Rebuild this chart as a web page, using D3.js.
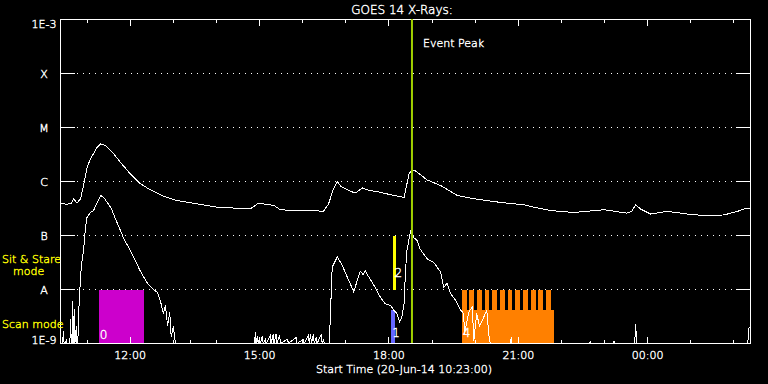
<!DOCTYPE html>
<html>
<head>
<meta charset="utf-8">
<script src="https://cdn.jsdelivr.net/npm/d3@7"></script>
<style>
  html, body { margin: 0; padding: 0; background: #000; }
  svg { display: block; }
  text { font-family: "DejaVu Sans", sans-serif; font-weight: 200; stroke-width: 0.4px; }
</style>
</head>
<body>
<div id="chart"></div>
<script>
// Flux levels of the left axis (W/m^2) and their labels
const levelValues = [1e-3, 1e-4, 1e-5, 1e-6, 1e-7, 1e-8, 1e-9];
const levelLabels = ["1E-3", "X", "M", "C", "B", "A", "1E-9"];
const gridValues = [1e-4, 1e-5, 1e-6, 1e-7, 1e-8];

const titleText = "GOES 14 X-Rays:";
const xTitle = "Start Time (20-Jun-14 10:23:00)";
const startClock = "10:23";
const endClock = "02:23";
const eventPeak = "18:32";

// 1-8 A channel (upper curve)
const longChannel = [
    ["10:23", 3.9e-7], ["10:32", 3.8e-7], ["10:38", 3.9e-7], ["10:41", 4.8e-7],
    ["10:46", 4.0e-7], ["10:51", 4.8e-7], ["10:55", 8.4e-7], ["11:00", 1.84e-6],
    ["11:05", 2.67e-6], ["11:09", 3.3e-6], ["11:14", 4.3e-6], ["11:19", 5.0e-6],
    ["11:26", 4.6e-6], ["11:35", 3.5e-6], ["11:46", 2.3e-6], ["12:00", 1.39e-6],
    ["12:14", 9.1e-7], ["12:28", 7.0e-7], ["12:47", 5.3e-7], ["13:05", 4.45e-7],
    ["13:38", 3.75e-7], ["14:01", 3.34e-7], ["14:29", 3.2e-7], ["14:47", 3.1e-7],
    ["14:57", 3.86e-7], ["15:04", 3.86e-7], ["15:20", 3.6e-7], ["15:29", 3.0e-7],
    ["15:48", 2.9e-7], ["16:06", 2.9e-7], ["16:29", 2.82e-7], ["16:36", 3.86e-7],
    ["16:42", 6.8e-7], ["16:48", 1.01e-6], ["16:53", 8.1e-7], ["17:02", 7.0e-7],
    ["17:13", 6.1e-7], ["17:23", 7.6e-7], ["17:30", 7.0e-7], ["17:48", 6.3e-7],
    ["18:07", 5.5e-7], ["18:21", 5.1e-7], ["18:24", 7.8e-7], ["18:28", 1.39e-6],
    ["18:31", 1.6e-6], ["18:37", 1.57e-6], ["18:53", 1.07e-6], ["19:12", 8.4e-7],
    ["19:35", 5.5e-7], ["19:58", 4.8e-7], ["20:35", 4.1e-7], ["21:08", 3.7e-7],
    ["21:22", 3.34e-7], ["21:45", 2.9e-7], ["22:17", 2.67e-7], ["22:59", 3.0e-7],
    ["23:31", 2.6e-7], ["23:38", 2.8e-7], ["23:43", 3.7e-7], ["23:50", 3.1e-7],
    ["00:04", 2.5e-7], ["00:27", 2.8e-7], ["01:00", 2.45e-7], ["01:18", 2.35e-7],
    ["01:46", 2.4e-7], ["02:05", 2.8e-7], ["02:14", 3.1e-7], ["02:23", 3.1e-7]
];

// 0.5-4 A channel (lower curve), values under 1E-9 sit on the axis
const shortChannel = [
    ["10:23", 9e-10], ["10:26", 9e-10], ["10:27", 1.7e-9], ["10:28", 9e-10],
    ["10:30", 9e-10], ["10:31", 1.2e-9], ["10:32", 9e-10], ["10:36", 9e-10],
    ["10:37", 2.9e-9], ["10:38", 9e-10], ["10:39", 9e-10], ["10:40", 6.2e-9],
    ["10:41", 9e-10], ["10:42", 4.4e-9], ["10:43", 9e-10], ["10:45", 2.1e-9],
    ["10:46", 9e-10], ["10:47", 9e-10], ["10:49", 6.2e-9], ["10:52", 2.8e-8],
    ["10:55", 5.3e-8], ["10:58", 1.5e-7], ["11:00", 2.2e-7], ["11:05", 2.7e-7],
    ["11:09", 2.9e-7], ["11:14", 4.1e-7], ["11:19", 5.5e-7], ["11:23", 5.1e-7],
    ["11:33", 3.3e-7], ["11:42", 1.7e-7], ["11:51", 8.8e-8], ["12:00", 5.3e-8],
    ["12:14", 2.2e-8], ["12:24", 1.3e-8], ["12:32", 1.0e-8], ["12:38", 8.8e-9],
    ["12:42", 6.2e-9], ["12:46", 3.6e-9], ["12:49", 5.1e-9], ["12:52", 2.1e-9],
    ["12:55", 3.8e-9], ["12:57", 1.3e-9], ["13:00", 2.1e-9], ["13:03", 9e-10],
    ["13:23", 9e-10], ["13:24", 1.1e-9], ["13:25", 9e-10],
    ["14:53", 9e-10], ["14:54", 1.6e-9], ["14:55", 9e-10], ["14:57", 1.4e-9],
    ["14:58", 9e-10], ["15:00", 1.3e-9], ["15:01", 9e-10], ["15:04", 1.4e-9],
    ["15:05", 9e-10], ["15:08", 1.2e-9], ["15:09", 9e-10], ["15:15", 1.4e-9],
    ["15:16", 9e-10], ["15:19", 1.5e-9], ["15:20", 9e-10], ["15:23", 1.5e-9],
    ["15:24", 9e-10], ["15:28", 1.4e-9], ["15:29", 9e-10], ["15:39", 1.2e-9],
    ["15:40", 9e-10], ["15:51", 1.3e-9], ["15:52", 9e-10], ["16:01", 1.2e-9],
    ["16:02", 9e-10], ["16:08", 1.4e-9], ["16:09", 9e-10], ["16:11", 1.5e-9],
    ["16:12", 9e-10], ["16:15", 1.5e-9], ["16:16", 9e-10], ["16:19", 1.3e-9],
    ["16:20", 9e-10], ["16:26", 1.5e-9], ["16:27", 9e-10], ["16:29", 1.2e-9],
    ["16:30", 9e-10], ["16:37", 9e-10], ["16:41", 2.6e-8], ["16:48", 4.0e-8],
    ["16:55", 2.8e-8], ["17:02", 1.7e-8], ["17:06", 1.3e-8], ["17:11", 8.9e-9],
    ["17:16", 1.5e-8], ["17:20", 2.2e-8], ["17:24", 1.9e-8], ["17:27", 2.2e-8],
    ["17:32", 1.7e-8], ["17:39", 1.2e-8], ["17:48", 7.2e-9], ["17:55", 5.4e-9],
    ["18:02", 5.1e-9], ["18:07", 4.1e-9], ["18:11", 3.6e-9], ["18:15", 2.5e-9],
    ["18:18", 3.1e-9], ["18:21", 5.4e-9], ["18:23", 2.2e-8], ["18:25", 5.3e-8],
    ["18:30", 1.2e-7], ["18:34", 9.3e-8], ["18:39", 8.1e-8], ["18:43", 5.7e-8],
    ["18:53", 3.7e-8], ["19:02", 3.2e-8], ["19:12", 2.1e-8], ["19:16", 1.1e-8],
    ["19:21", 1.3e-8], ["19:26", 8.3e-9], ["19:33", 6.2e-9], ["19:40", 4.1e-9],
    ["19:44", 3.6e-9], ["19:45", 1.5e-9], ["19:51", 3.8e-9], ["19:56", 4.8e-9],
    ["19:58", 1.1e-9], ["20:02", 3.6e-9], ["20:06", 2.1e-9], ["20:12", 3.1e-9],
    ["20:16", 4.2e-9], ["20:19", 1.4e-9], ["20:21", 9e-10],
    ["20:49", 9e-10], ["20:50", 1.3e-9], ["20:51", 9e-10],
    ["22:39", 9e-10], ["22:40", 1.1e-9], ["22:41", 9e-10],
    ["23:12", 9e-10], ["23:13", 1.1e-9], ["23:14", 9e-10],
    ["23:42", 9e-10], ["23:43", 2.3e-9], ["23:44", 1.55e-9], ["23:45", 9e-10],
    ["02:19", 9e-10], ["02:20", 1.3e-9], ["02:21", 2.0e-9], ["02:23", 2.0e-9]
];

// Observation blocks: [label, start, end, low flux, high flux]
const scanBlocks = [
    ["0", "11:16", "12:19", 9e-10, 1e-8],
    ["1", "18:03", "18:08", 9e-10, 4.2e-9],
    ["4", "19:41", "21:50", 9e-10, 4.1e-9]
];
const stareBlocks = [
    ["2", "18:06", "18:10", 1e-8, 1e-7]
];
// raster spikes of block 4
const scan4Spikes = [
    ["19:41", "19:48"], ["19:52", "19:58"], ["20:02", "20:09"], ["20:13", "20:19"],
    ["20:24", "20:30"], ["20:34", "20:41"], ["20:45", "20:51"], ["20:56", "21:02"],
    ["21:06", "21:13"], ["21:17", "21:24"], ["21:28", "21:34"], ["21:38", "21:45"]
];
const scan4SpikeRange = [4.1e-9, 1e-8];
const blockLabelFlux = { "0": 1.5e-9, "1": 1.6e-9, "2": 2.1e-8, "4": 1.6e-9 };

const COLORS = {
    bg: "#000000",
    fg: "#ffffff",
    mode: "#ffff00",
    event: "#a0d000",
    block: { "0": "#cc00cc", "1": "#6666ff", "2": "#ffff00", "4": "#ff8000" }
};

const W = 768, H = 384;
const plot = { left: 60, right: 750, top: 19, bottom: 343 };

// clock string -> date, hours before 10 are the next day
function parseClock(s) {
    const [h, m] = s.split(":").map(Number);
    return new Date(2014, 5, h < 10 ? 21 : 20, h, m);
}

const svg = d3.select("#chart").append("svg")
    .attr("width", W)
    .attr("height", H)
    .style("background", COLORS.bg);

const x = d3.scaleTime()
    .domain([parseClock(startClock), parseClock(endClock)])
    .range([plot.left + 0.5, plot.right + 0.5]);

const y = d3.scaleLog()
    .domain([1e-9, 1e-3])
    .range([plot.bottom + 0.5, plot.top + 0.5])
    .clamp(true);

// dotted grid lines
svg.append("g")
    .selectAll("line")
    .data(gridValues)
    .join("line")
    .attr("x1", plot.left + 17)
    .attr("x2", plot.right - 14)
    .attr("y1", d => y(d))
    .attr("y2", d => y(d))
    .attr("stroke", COLORS.fg)
    .attr("stroke-dasharray", "1,5")
    .attr("shape-rendering", "crispEdges");

// observation blocks
const blocksG = svg.append("g").attr("shape-rendering", "crispEdges");
const allBlocks = scanBlocks.concat(stareBlocks);

blocksG.selectAll("rect.block")
    .data(allBlocks)
    .join("rect")
    .attr("class", "block")
    .attr("x", d => Math.round(x(parseClock(d[1]))))
    .attr("width", d => Math.round(x(parseClock(d[2]))) - Math.round(x(parseClock(d[1]))))
    .attr("y", d => Math.round(y(d[4])))
    .attr("height", d => Math.round(y(d[3])) - Math.round(y(d[4])))
    .attr("fill", d => COLORS.block[d[0]]);

blocksG.selectAll("rect.spike")
    .data(scan4Spikes)
    .join("rect")
    .attr("class", "spike")
    .attr("x", d => Math.round(x(parseClock(d[0]))))
    .attr("width", d => Math.round(x(parseClock(d[1]))) - Math.round(x(parseClock(d[0]))))
    .attr("y", Math.round(y(scan4SpikeRange[1])))
    .attr("height", Math.round(y(scan4SpikeRange[0])) - Math.round(y(scan4SpikeRange[1])) + 1)
    .attr("fill", COLORS.block["4"]);

// flux curves
const line = d3.line()
    .x(d => x(parseClock(d[0])))
    .y(d => y(d[1]));

[longChannel, shortChannel].forEach(series => {
    svg.append("path")
        .datum(series)
        .attr("fill", "none")
        .attr("stroke", COLORS.fg)
        .attr("stroke-width", 1)
        .attr("shape-rendering", "crispEdges")
        .attr("d", line);
});

// block numbers
svg.append("g")
    .selectAll("text")
    .data(allBlocks)
    .join("text")
    .attr("x", d => x(parseClock(d[1])) + 5)
    .attr("y", d => y(blockLabelFlux[d[0]]) + 5)
    .attr("text-anchor", "middle")
    .attr("fill", COLORS.fg)
    .attr("stroke", COLORS.fg)
    .style("font-size", "12px")
    .text(d => d[0]);

// frame
svg.append("rect")
    .attr("x", plot.left + 0.5)
    .attr("y", plot.top + 0.5)
    .attr("width", plot.right - plot.left)
    .attr("height", plot.bottom - plot.top)
    .attr("fill", "none")
    .attr("stroke", COLORS.fg)
    .attr("shape-rendering", "crispEdges");

// level ticks on both sides
const levelTicks = svg.append("g").attr("shape-rendering", "crispEdges");
levelTicks.selectAll("line.l")
    .data(levelValues)
    .join("line")
    .attr("class", "l")
    .attr("x1", plot.left)
    .attr("x2", plot.left + 15)
    .attr("y1", d => y(d))
    .attr("y2", d => y(d))
    .attr("stroke", COLORS.fg);
levelTicks.selectAll("line.r")
    .data(levelValues)
    .join("line")
    .attr("class", "r")
    .attr("x1", plot.right - 14)
    .attr("x2", plot.right)
    .attr("y1", d => y(d))
    .attr("y2", d => y(d))
    .attr("stroke", COLORS.fg);

svg.append("g")
    .selectAll("text")
    .data(levelValues)
    .join("text")
    .attr("x", 44)
    .attr("y", (d, i) => i === 0 ? y(d) + 8 : i === levelValues.length - 1 ? y(d) : y(d) + 4)
    .attr("text-anchor", "middle")
    .attr("fill", COLORS.fg)
    .attr("stroke", COLORS.fg)
    .style("font-size", "11px")
    .text((d, i) => levelLabels[i]);

// time ticks, every hour, labelled every 3 hours
const hours = x.ticks(d3.timeHour.every(1));
const isMajor = d => d.getHours() % 3 === 0;
const timeTicks = svg.append("g").attr("shape-rendering", "crispEdges");
timeTicks.selectAll("line.top")
    .data(hours)
    .join("line")
    .attr("class", "top")
    .attr("x1", d => x(d))
    .attr("x2", d => x(d))
    .attr("y1", plot.top)
    .attr("y2", d => plot.top + (isMajor(d) ? 7 : 4))
    .attr("stroke", COLORS.fg);
timeTicks.selectAll("line.bot")
    .data(hours)
    .join("line")
    .attr("class", "bot")
    .attr("x1", d => x(d))
    .attr("x2", d => x(d))
    .attr("y1", plot.bottom + 1)
    .attr("y2", d => plot.bottom + 1 - (isMajor(d) ? 7 : 4))
    .attr("stroke", COLORS.fg);

svg.append("g")
    .selectAll("text")
    .data(hours.filter(isMajor))
    .join("text")
    .attr("x", d => x(d))
    .attr("y", 359)
    .attr("text-anchor", "middle")
    .attr("fill", COLORS.fg)
    .attr("stroke", COLORS.fg)
    .style("font-size", "11px")
    .text(d3.timeFormat("%H:%M"));

svg.append("text")
    .attr("x", 404)
    .attr("y", 373)
    .attr("text-anchor", "middle")
    .attr("fill", COLORS.fg)
    .attr("stroke", COLORS.fg)
    .style("font-size", "11px")
    .text(xTitle);

svg.append("text")
    .attr("x", 402)
    .attr("y", 14)
    .attr("text-anchor", "middle")
    .attr("fill", COLORS.fg)
    .attr("stroke", COLORS.fg)
    .style("font-size", "12px")
    .text(titleText);

// event peak marker
const peakX = x(parseClock(eventPeak));
svg.append("line")
    .attr("x1", peakX)
    .attr("x2", peakX)
    .attr("y1", plot.top)
    .attr("y2", plot.bottom)
    .attr("stroke", COLORS.event)
    .attr("stroke-width", 2);
svg.append("text")
    .attr("x", peakX + 11)
    .attr("y", 47)
    .attr("fill", COLORS.fg)
    .attr("stroke", COLORS.fg)
    .style("font-size", "11px")
    .text("Event Peak");

// mode labels
[["Sit & Stare", 2, 263], ["mode", 13, 275], ["Scan mode", 2, 328]].forEach(([t, tx, ty]) => {
    svg.append("text").attr("x", tx).attr("y", ty)
        .attr("fill", COLORS.mode).attr("stroke", COLORS.mode)
        .style("font-size", "11px").text(t);
});
</script>
</body>
</html>
